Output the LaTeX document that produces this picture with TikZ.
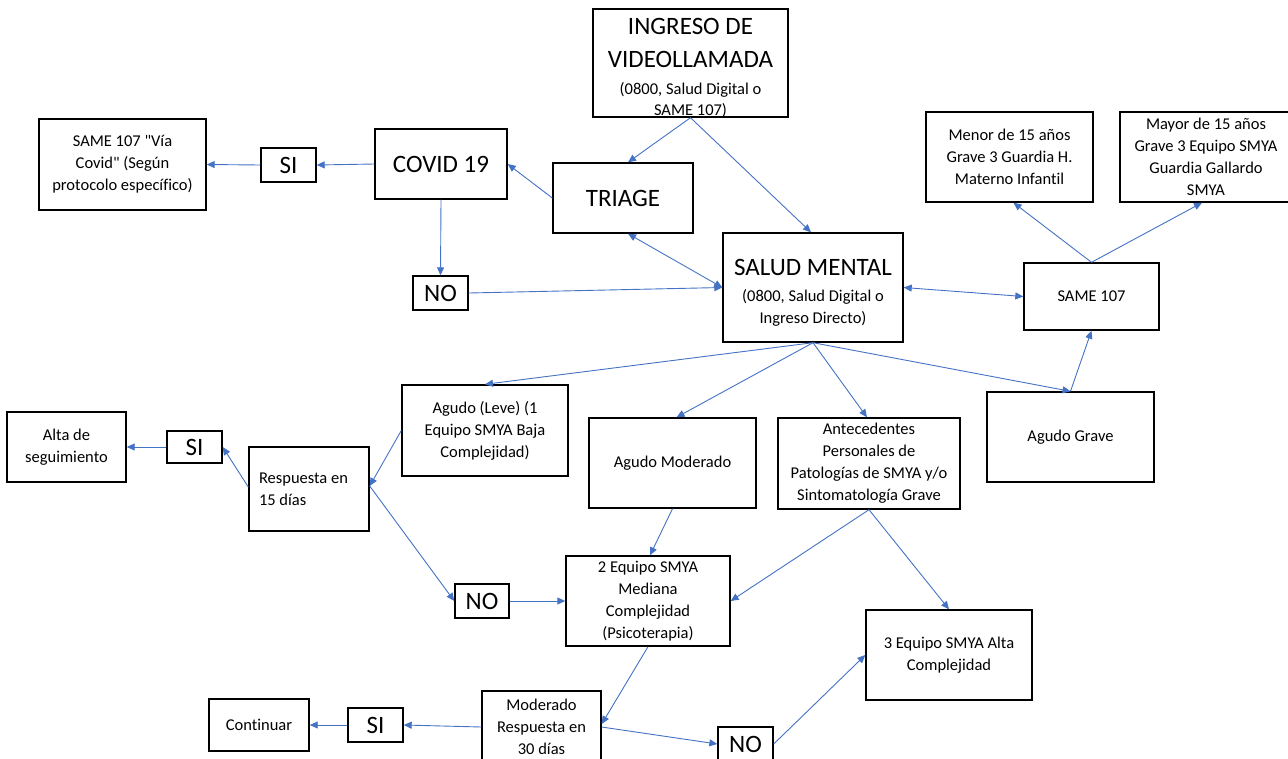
\documentclass[tikz,border=0pt]{standalone}
\usepackage{fontspec}
\setmainfont{Carlito}[Ligatures={TeX,NoCommon}]
\usetikzlibrary{arrows.meta,calc}
\definecolor{arr}{HTML}{4472C4}
\begin{document}
\begin{tikzpicture}[x=1pt,y=-1pt,
  box/.style={draw=black, line width=1.4pt, rectangle, inner sep=0pt, align=center,
    font=\fontsize{16.5}{22}\selectfont},
  wh/.style 2 args={minimum width=#1pt, minimum height=#2pt},
  big/.style={font=\fontsize{25}{30}\selectfont},
  txt/.style={inner sep=0pt},
  con/.style={draw=arr, line width=0.9pt, -{Triangle[length=8pt,width=7pt]}},
  dcon/.style={draw=arr, line width=0.9pt, {Triangle[length=8pt,width=7pt]}-{Triangle[length=8pt,width=7pt]}},
]
\useasboundingbox (0,0) rectangle (1288,758);
\clip (0,0) rectangle (1288,758);

% nodes
\node[box, wh={195}{108}] (ingreso) at (690.5,63) {};
\node[txt] (ingresotxt) at ($(ingreso.center)+(0,5)$)
  {\parbox{190pt}{\centering\fontsize{25}{33}\selectfont INGRESO DE\par VIDEOLLAMADA\par\vspace{5.5pt}\fontsize{16.5}{21}\selectfont (0800, Salud Digital o\\SAME 107)\par}};
\node[box, big, wh={140}{70}] (triage) at (623,198) {TRIAGE};
\node[box, big, wh={132}{70}] (covid) at (441,164) {COVID 19};
\node[box, big, wh={55}{34}] (si1) at (288.5,165) {SI};
\node[box, wh={167}{91}] (viacovid) at (122.5,164.5) {SAME 107 \textquotedbl Vía\\Covid\textquotedbl{} (Según\\protocolo específico)};
\node[box, big, wh={55}{34}] (no1) at (440.5,293) {NO};
\node[box, wh={180}{109}] (salud) at (813,287.5) {};
\node[txt] (saludtxt) at ($(salud.center)+(0,5.5)$)
  {\parbox{176pt}{\centering\fontsize{25}{33}\selectfont SALUD MENTAL\par\vspace{3.5pt}\fontsize{16.5}{22}\selectfont (0800, Salud Digital o\\Ingreso Directo)\par}};
\node[box, wh={135}{67}] (same) at (1091.5,296.5) {SAME 107};
\node[box, wh={167}{90}] (menor) at (1009.5,157) {Menor de 15 años\\Grave 3 Guardia H.\\Materno Infantil};
\node[box, wh={172}{90}] (mayor) at (1206,157) {Mayor de 15 años\\Grave 3 Equipo SMYA\\Guardia Gallardo\\SMYA};
\node[box, wh={166}{91}] (leve) at (485,430.5) {Agudo (Leve) (1\\Equipo SMYA Baja\\Complejidad)};
\node[box, wh={120}{84}, text width=100pt, align=flush left] (resp15) at (309,489) {Respuesta en\\15 días};
\node[box, big, wh={55}{32}] (si2) at (194.5,447) {SI};
\node[box, wh={119}{70}] (alta) at (66.5,447) {Alta de\\seguimiento};
\node[box, big, wh={54}{34}] (no2) at (482,601) {NO};
\node[box, wh={167}{90}] (moderado) at (672.5,463) {Agudo Moderado};
\node[box, wh={182}{91}] (antec) at (869,463.5) {Antecedentes\\Personales de\\Patologías de SMYA y/o\\Sintomatología Grave};
\node[box, wh={167}{90}] (grave) at (1070.5,437) {Agudo Grave};
\node[box, wh={164}{90}] (eq2) at (648,601) {2 Equipo SMYA\\Mediana\\Complejidad\\(Psicoterapia)};
\node[box, wh={166}{90}] (eq3) at (949,655) {3 Equipo SMYA Alta\\Complejidad};
\node[box, wh={119}{72}] (mod30) at (541.5,727) {Moderado\\Respuesta en\\30 días};
\node[box, big, wh={55}{34}] (si3) at (375.5,725) {SI};
\node[box, wh={100}{52}] (continuar) at (259,725) {Continuar};
\node[box, big, wh={55}{34}] (no3) at (745.5,744) {NO};

% connectors
\draw[con] (ingreso.south) -- ($(triage.north)+(5,0)$);
\draw[con] (ingreso.south) -- ($(salud.north)+(-2,0)$);
\draw[con] (triage.west) -- (covid.east);
\draw[con] (covid.west) -- (si1.east);
\draw[con] (si1.west) -- (viacovid.east);
\draw[con] (covid.south) -- (no1.north);
\draw[con] (no1.east) -- (salud.west);
\draw[dcon] ($(triage.south)+(5,0)$) -- (salud.west);
\draw[dcon] (salud.east) -- (same.west);
\draw[con] (same.north) -- ($(menor.south)+(4,0)$);
\draw[con] (same.north) -- ($(mayor.south)+(-4,0)$);
\draw[con] (grave.north) -- (same.south);
\draw[con] (salud.south) -- (leve.north);
\draw[con] (salud.south) -- ($(moderado.north)+(4,0)$);
\draw[con] (salud.south) -- ($(antec.north)+(-2,0)$);
\draw[con] (salud.south) -- (grave.north);
\draw[con] (leve.west) -- ($(resp15.east)+(0,-3)$);
\draw[con] ($(resp15.west)+(0,-2)$) -- (si2.east);
\draw[con] (si2.west) -- (alta.east);
\draw[con] ($(resp15.east)+(0,-3)$) -- (no2.west);
\draw[con] (no2.east) -- (eq2.west);
\draw[con] (moderado.south) -- ($(eq2.north)+(2,0)$);
\draw[con] (antec.south) -- (eq2.east);
\draw[con] (antec.south) -- (eq3.north);
\draw[con] (eq2.south) -- ($(mod30.east)+(0,-3)$);
\draw[con] (mod30.west) -- (si3.east);
\draw[con] (si3.west) -- (continuar.east);
\draw[con] (mod30.east) -- (no3.west);
\draw[con] (no3.east) -- (eq3.west);
\end{tikzpicture}
\end{document}
